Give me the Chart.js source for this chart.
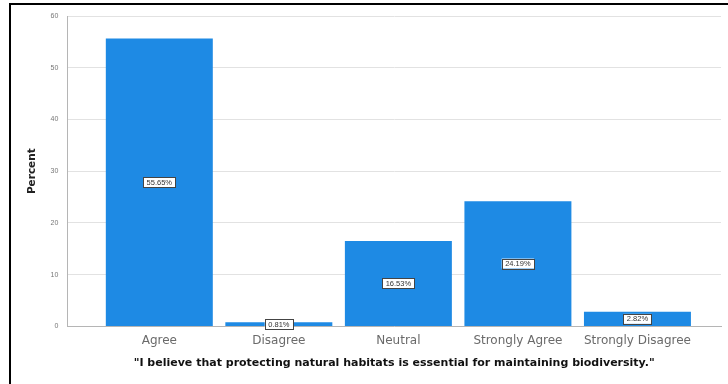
<!DOCTYPE html>
<html>
<head>
<meta charset="utf-8">
<script src="https://cdn.jsdelivr.net/npm/chart.js@4/dist/chart.umd.min.js"></script>
<style>
  html, body { margin: 0; padding: 0; background: #fff; }
  #wrap { width: 728px; height: 384px; position: relative; }
</style>
</head>
<body>
<div id="wrap"><canvas id="c" width="728" height="384"></canvas></div>
<script>
// Response categories and their share of respondents (percent)
const categories = ['Agree', 'Disagree', 'Neutral', 'Strongly Agree', 'Strongly Disagree'];
const percents = [55.65, 0.81, 16.53, 24.19, 2.82];
const yTicks = [0, 10, 20, 30, 40, 50, 60];
const xTitle = '"I believe that protecting natural habitats is essential for maintaining biodiversity."';
const yTitle = 'Percent';

const FONT = '"Liberation Sans", Arial, sans-serif';
const WIDE = '"DejaVu Sans", sans-serif';
const BAR = '#1e8ae4';

// Outer frame (left and top edges)
const framePlugin = {
  id: 'frame',
  beforeDraw(chart) {
    const ctx = chart.ctx;
    ctx.save();
    ctx.fillStyle = '#000';
    ctx.fillRect(9, 3, 728, 2);
    ctx.fillRect(9, 3, 2, 384);
    ctx.restore();
  }
};

// Boxed value labels centred in each bar
const valueLabels = {
  id: 'valueLabels',
  afterDatasetsDraw(chart) {
    const ctx = chart.ctx;
    const meta = chart.getDatasetMeta(0);
    ctx.save();
    ctx.font = '7.5px ' + FONT;
    ctx.textAlign = 'center';
    ctx.textBaseline = 'middle';
    meta.data.forEach((bar, i) => {
      const txt = percents[i].toFixed(2) + '%';
      const cy = (bar.y + bar.base) / 2;
      const w = ctx.measureText(txt).width + 7;
      const h = 10;
      ctx.fillStyle = '#fff';
      ctx.fillRect(bar.x - w / 2, cy - h / 2, w, h);
      ctx.strokeStyle = '#444';
      ctx.lineWidth = 1;
      ctx.strokeRect(Math.round(bar.x - w / 2) + 0.5, Math.round(cy - h / 2) + 0.5, Math.round(w), h);
      ctx.fillStyle = '#333';
      ctx.fillText(txt, bar.x, cy + 0.5);
    });
    ctx.restore();
  }
};

new Chart(document.getElementById('c'), {
  type: 'bar',
  data: {
    datasets: [{
      data: categories.map((c, i) => ({ x: i, y: percents[i] })),
      backgroundColor: BAR,
      borderWidth: 0,
      categoryPercentage: 1,
      barPercentage: 0.895
    }]
  },
  options: {
    responsive: false,
    animation: false,
    devicePixelRatio: 1,
    layout: { padding: { left: 26, top: 16, right: 7, bottom: 14 } },
    plugins: { legend: { display: false }, tooltip: { enabled: false } },
    scales: {
      x: {
        type: 'linear',
        offset: false,
        min: -0.769,
        max: 4.699,
        afterBuildTicks: s => { s.ticks = categories.map((_, i) => ({ value: i })); },
        grid: { display: false },
        border: { display: true, color: '#b5b5b5', width: 1 },
        ticks: {
          autoSkip: false,
          maxRotation: 0,
          padding: -1,
          color: '#6a6a6a',
          font: { family: WIDE, size: 12 },
          callback: v => categories[v] ?? ''
        },
        title: {
          display: true,
          text: xTitle,
          color: '#111',
          padding: { top: 10, bottom: 0 },
          font: { family: WIDE, size: 11, weight: 'bold' }
        }
      },
      y: {
        min: 0,
        max: 60,
        afterBuildTicks: s => { s.ticks = yTicks.map(v => ({ value: v })); },
        grid: { color: '#e2e2e2', drawTicks: false },
        border: { display: true, color: '#b5b5b5', width: 1 },
        ticks: {
          padding: 9,
          color: '#777',
          font: { family: FONT, size: 7 }
        },
        title: {
          display: true,
          text: yTitle,
          color: '#222',
          padding: { top: 0, bottom: 3 },
          font: { family: WIDE, size: 10.5, weight: 'bold' }
        }
      }
    }
  },
  plugins: [framePlugin, valueLabels]
});
</script>
</body>
</html>
